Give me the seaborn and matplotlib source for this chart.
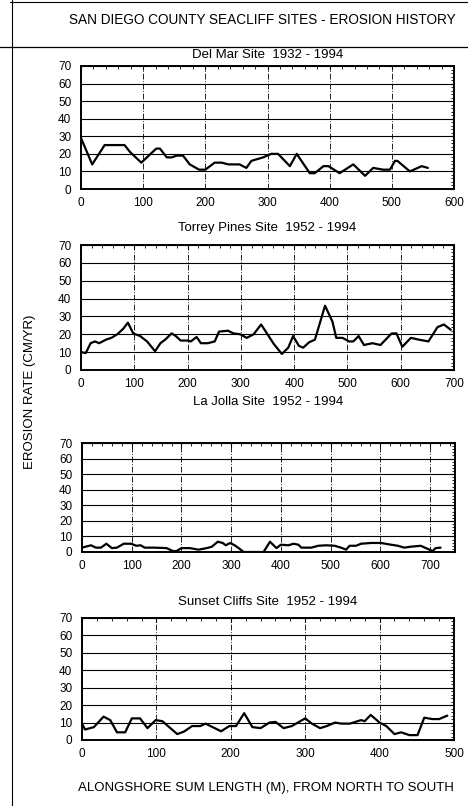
import numpy as np
import pandas as pd
import matplotlib
matplotlib.use("Agg")
import matplotlib.pyplot as plt
from matplotlib.lines import Line2D
from matplotlib.ticker import MultipleLocator
import seaborn as sns

# ---------------- data ----------------
delmar_x = [0, 18, 38, 70, 79, 97, 121, 127, 138, 146, 154, 164, 175, 190, 200, 215, 226, 237,
            255, 266, 274, 293, 306, 317, 336, 347, 368, 376, 390, 398, 416, 438, 457, 470,
            486, 497, 505, 509, 529, 548, 558]
delmar_y = [29, 14, 25, 25, 21, 15, 23, 23, 18, 18, 19, 19, 14, 11, 11, 15, 15, 14,
            14, 12, 16, 18, 20, 20, 13, 20, 9, 9, 13, 13, 9, 14, 7.5, 12,
            11, 11, 16, 16, 10, 13, 12]

torrey_x = [0, 9, 18, 26, 34, 47, 57, 68, 79, 88, 98, 111, 124, 139, 149, 158, 170, 178, 187,
            200, 206, 217, 225, 238, 251, 259, 276, 286, 299, 311, 324, 338, 350, 362, 377,
            389, 398, 409, 417, 428, 439, 458, 472, 479, 491, 503, 511, 521, 531, 547, 562,
            583, 592, 603, 619, 634, 652, 669, 681, 694]
torrey_y = [10, 9.5, 15, 16, 15, 17, 18, 20, 23, 26.5, 20.5, 19, 16, 10.5, 15, 17, 20.5, 19, 16.5,
            16.5, 16, 18.5, 15, 15, 16, 21.5, 22, 20.5, 20, 18, 20, 25.5, 20, 14.5, 9,
            12.5, 19, 13.5, 12.5, 15.5, 17, 36, 27, 18, 18, 16, 16, 19, 14, 15, 14,
            20.5, 20.5, 13, 18, 17, 16, 24, 25.5, 22.5]

lajolla_x = [0, 7, 18, 28, 38, 49, 60, 70, 84, 99, 109, 118, 126, 146, 170, 183, 190, 200, 217,
             234, 251, 261, 273, 283, 289, 298, 307, 315, 325, 345, 365, 378, 391, 400, 415,
             425, 435, 441, 461, 475, 491, 508, 521, 531, 538, 551, 561, 581, 601, 621, 635,
             648, 661, 681, 695, 705, 711, 721]
lajolla_y = [2.8, 3.4, 4.3, 2.8, 2.8, 5.3, 2.5, 2.8, 5.3, 5.3, 4, 4.3, 2.8, 2.8, 2.5, 0.6, 0.6, 2.5, 2.5,
             1.5, 2.5, 3.4, 6.6, 5.8, 4.3, 5.8, 4.3, 2.5, 0, 0, 0, 6.6, 2.5, 4.7, 4.3,
             5.3, 4.7, 2.8, 2.8, 4, 4.3, 4, 2.8, 1.5, 4, 4, 5.3, 5.8, 5.8, 4.7, 4,
             2.8, 3.4, 4, 2, 0.6, 2.5, 2.8]

sunset_x = [0, 4, 16, 29, 38, 47, 58, 67, 78, 88, 99, 108, 128, 137, 148, 159, 166, 187, 198,
            207, 218, 229, 240, 252, 260, 271, 282, 300, 309, 320, 329, 340, 349, 360, 375,
            380, 388, 400, 409, 420, 429, 440, 451, 460, 471, 480, 491]
sunset_y = [9.4, 6, 7.4, 13.4, 11.4, 4.4, 4.4, 12.4, 12.4, 6.8, 11.4, 10.8, 3.4, 4.8, 8, 8, 9.4, 5, 8,
            8, 15.4, 7.4, 6.8, 10, 10.4, 6.8, 8, 12.4, 9.4, 6.8, 8, 10, 9.4, 9.4, 11.4,
            10.8, 14.4, 10, 8, 3.4, 4.4, 2.8, 2.8, 12.8, 12, 12, 14]

site_titles = ["Del Mar Site  1932 - 1994", "Torrey Pines Site  1952 - 1994",
               "La Jolla Site  1952 - 1994", "Sunset Cliffs Site  1952 - 1994"]
x_maxes = [600, 700, 750, 500]
x_tick_max = [600, 700, 700, 500]
y_ticks = [0, 10, 20, 30, 40, 50, 60, 70]

main_title = "SAN DIEGO COUNTY SEACLIFF SITES - EROSION HISTORY"
x_label = "ALONGSHORE SUM LENGTH (M), FROM NORTH TO SOUTH"
y_label = "EROSION RATE (CM/YR)"

series = [(delmar_x, delmar_y), (torrey_x, torrey_y), (lajolla_x, lajolla_y), (sunset_x, sunset_y)]

# ---------------- style ----------------
sns.set_theme(style="white")
plt.rcParams['font.family'] = ['Liberation Sans', 'DejaVu Sans']

W, H = 468, 806
fig = plt.figure(figsize=(W / 100, H / 100), dpi=100)
fig.patch.set_facecolor("white")

# axes rectangles in pixels: (left, top, right, bottom)
rects = [(81, 66, 454, 189), (81, 245, 454, 370), (82, 443, 455, 552), (82, 618, 454, 740)]
title_y = [55, 228, 402, 602]

def px(x, y):
    return x / W, 1 - y / H

for i, ((xs, ys), (l, t, r, b)) in enumerate(zip(series, rects)):
    ax = fig.add_axes([l / W, 1 - b / H, (r - l) / W, (b - t) / H])
    df = pd.DataFrame({"x": xs, "y": ys})
    sns.lineplot(data=df, x="x", y="y", ax=ax, color="black", lw=1.6,
                 estimator=None, sort=False)
    ax.set_xlim(0, x_maxes[i])
    ax.set_ylim(0, 70)
    ax.set_yticks(y_ticks)
    ax.set_xticks(np.arange(0, x_tick_max[i] + 1, 100))
    ax.xaxis.set_minor_locator(MultipleLocator(20))
    ax.yaxis.set_minor_locator(MultipleLocator(2))
    ax.set_xlabel("")
    ax.set_ylabel("")
    ax.yaxis.grid(True, color="black", lw=0.8)
    ax.xaxis.grid(True, color="black", lw=0.6, ls=(0, (7, 2, 1, 2)))
    ax.set_axisbelow(True)
    ax.tick_params(which="both", direction="in", top=True, right=True, colors="black",
                   labelsize=8.5)
    ax.tick_params(which="major", length=3, width=0.8)
    ax.tick_params(which="minor", length=2, width=0.6)
    ax.tick_params(axis="y", pad=7)
    ax.tick_params(axis="x", pad=6)
    for s in ax.spines.values():
        s.set_color("black")
        s.set_linewidth(1.4)
    cx = (l + r) / 2
    fig.text(*px(cx, title_y[i]), site_titles[i], ha="center", va="center",
             fontsize=9.5, color="black")

fig.text(*px(262, 20), main_title, ha="center", va="center", fontsize=9.8, color="black")
fig.text(*px(266, 788), x_label, ha="center", va="center", fontsize=9.5, color="black")
fig.text(*px(30, 392), y_label, ha="center", va="center", rotation=90, fontsize=9.5,
         color="black")

# page frame lines
fig.add_artist(Line2D([12 / W, 12 / W], [0, 1], color="black", lw=0.8))
fig.add_artist(Line2D([10 / W, 1], [1 - 2 / H, 1 - 2 / H], color="black", lw=0.8))
fig.add_artist(Line2D([0, 1], [1 - 47 / H, 1 - 47 / H], color="black", lw=0.9))

fig.savefig("out.png", dpi=100, facecolor="white")
